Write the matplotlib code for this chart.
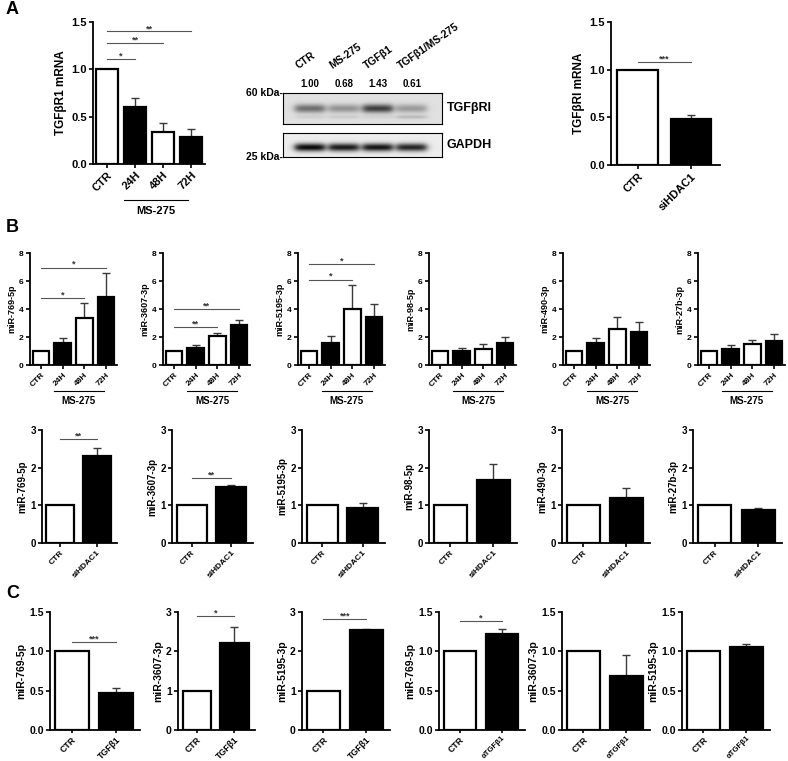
import numpy as np
import matplotlib
matplotlib.use("Agg")
import matplotlib.pyplot as plt
from matplotlib import transforms

plt.rcParams["font.family"] = ["Liberation Sans", "DejaVu Sans"]
plt.rcParams["font.weight"] = "bold"
plt.rcParams["axes.labelweight"] = "bold"

W, H = 788, 761

# ---- panel A data ----
a_labels = ["CTR", "24H", "48H", "72H"]
a_vals = [1.0, 0.60, 0.34, 0.29]
a_err = [0.0, 0.10, 0.09, 0.08]
a_sig = [(0, 1, 1.11, "*"), (0, 2, 1.28, "**"), (0, 3, 1.40, "**")]

blot_lanes = ["CTR", "MS-275", "TGFβ1", "TGFβ1/MS-275"]
blot_quant = [1.00, 0.68, 1.43, 0.61]
gapdh_level = [1.0, 0.93, 0.95, 0.88]

a_si_labels = ["CTR", "siHDAC1"]
a_si_vals = [1.0, 0.48]
a_si_err = [0.0, 0.04]
a_si_sig = [(0, 1, 1.08, "***")]

# ---- panel B data ----
mir_names = ["miR-769-5p", "miR-3607-3p", "miR-5195-3p",
             "miR-98-5p", "miR-490-3p", "miR-27b-3p"]
ms_labels = ["CTR", "24H", "48H", "72H"]
ms_vals = [[1, 1.60, 3.35, 4.85], [1, 1.20, 2.05, 2.85], [1, 1.60, 4.00, 3.45],
           [1, 1.00, 1.15, 1.60], [1, 1.60, 2.60, 2.35], [1, 1.15, 1.50, 1.70]]
ms_err = [[0, 0.35, 1.10, 1.70], [0, 0.25, 0.25, 0.37], [0, 0.45, 1.70, 0.90],
          [0, 0.20, 0.35, 0.40], [0, 0.35, 0.85, 0.75], [0, 0.25, 0.30, 0.50]]
ms_sig = [[(0, 2, 4.8, "*"), (0, 3, 6.95, "*")],
          [(0, 2, 2.7, "**"), (0, 3, 4.0, "**")],
          [(0, 2, 6.1, "*"), (0, 3, 7.2, "*")],
          [], [], []]

si_labels = ["CTR", "siHDAC1"]
si_vals = [2.30, 1.50, 0.92, 1.68, 1.20, 0.88]
si_err = [0.22, 0.03, 0.13, 0.42, 0.27, 0.06]
si_sig = [[(0, 1, 2.75, "**")], [(0, 1, 1.72, "**")], [], [], [], []]

# ---- panel C data ----
c_names = ["miR-769-5p", "miR-3607-3p", "miR-5195-3p",
           "miR-769-5p", "miR-3607-3p", "miR-5195-3p"]
c_treat = ["TGFβ1", "TGFβ1", "TGFβ1", "αTGFβ1", "αTGFβ1", "αTGFβ1"]
c_vals = [0.47, 2.20, 2.53, 1.22, 0.69, 1.05]
c_err = [0.07, 0.42, 0.05, 0.07, 0.26, 0.04]
c_sig = [[(0, 1, 1.12, "***")], [(0, 1, 2.9, "*")], [(0, 1, 2.82, "***")],
         [(0, 1, 1.38, "*")], [], []]
c_ymax = [1.5, 3, 3, 1.5, 1.5, 1.5]

fig = plt.figure(figsize=(W / 100, H / 100), dpi=100)


def px_axes(x0, x1, y0, y1):
    return fig.add_axes([x0 / W, 1 - y1 / H, (x1 - x0) / W, (y1 - y0) / H])


def bar_panel(ax, labels, vals, errs, ymax, yticks, fmt, ylabel, sigs,
              fs_tick, fs_xtick, fs_label, labelpad, xr=0.5):
    x = np.arange(len(vals))
    colors = ["white" if i % 2 == 0 else "black" for i in range(len(vals))]
    errs = np.asarray(errs, dtype=float)
    m = errs > 0
    ax.errorbar(x[m], np.asarray(vals)[m], yerr=[np.zeros(m.sum()), errs[m]],
                fmt="none", ecolor="#3a3a3a", elinewidth=1.0, capsize=3,
                capthick=1.0, zorder=1)
    ax.bar(x, vals, width=0.76, color=colors, edgecolor="black",
           linewidth=1.6, zorder=2)
    for i, j, y, s in sigs:
        ax.plot([i, j], [y, y], color="#555555", lw=0.8, zorder=3)
        ax.text((i + j) / 2, y - ymax * 0.012, s, ha="center", va="bottom",
                fontsize=6.5, color="#333333")
    ax.set_xlim(-0.5, len(vals) - xr)
    ax.set_ylim(0, ymax)
    ax.set_yticks(yticks)
    ax.set_yticklabels([fmt.format(t) for t in yticks], fontsize=fs_tick)
    ax.set_xticks(x)
    ax.set_xticklabels(labels, rotation=45, ha="right", rotation_mode="anchor",
                       fontsize=fs_xtick)
    ax.set_ylabel(ylabel, fontsize=fs_label, labelpad=labelpad)
    for sp in ["top", "right"]:
        ax.spines[sp].set_visible(False)
    for sp in ["left", "bottom"]:
        ax.spines[sp].set_linewidth(1.3)
    ax.tick_params(direction="out", length=3, width=1.2, pad=1.5)


def bracket(ax, text, y_line, y_text, fs):
    tr = transforms.blended_transform_factory(ax.transData, ax.transAxes)
    ax.plot([0.6, 2.9], [y_line, y_line], color="black", lw=0.8,
            transform=tr, clip_on=False)
    ax.text(1.75, y_text, text, ha="center", va="center", fontsize=fs,
            transform=tr)


# ---- A left ----
ax = px_axes(93, 205, 22, 164)
bar_panel(ax, a_labels, a_vals, a_err, 1.5, [0, 0.5, 1.0, 1.5], "{:.1f}",
          "TGFβR1 mRNA", a_sig, 8, 8, 8.5, 3)
bracket(ax, "MS-275", -0.25, -0.33, 8)

# ---- A middle: western blot ----
lane_x = np.arange(len(blot_lanes))
xs = np.linspace(-0.79, 3.89, 320)


def blot_image(levels, yc, sy, bg, extra=None):
    ys = np.linspace(0, 1, 60)
    X, Y = np.meshgrid(xs, ys)
    dark = np.zeros_like(X)
    for i, lv in zip(lane_x, levels):
        lane = 1 / (1 + np.exp((np.abs(X - i) - 0.44) / 0.06))
        dark += lv * lane * np.exp(-((Y - yc) / sy) ** 2)
        if extra is not None:
            dark += extra[i] * lane * np.exp(-((Y - 0.78) / 0.06) ** 2)
    return np.clip(bg - dark, 0, 1)


ax_b1 = px_axes(283, 442, 93, 124)
ax_b1.imshow(blot_image([0.45 * q for q in blot_quant], 0.5, 0.14, 0.88,
                        extra=[0.06, 0.08, 0.05, 0.15]),
             cmap="gray", vmin=0, vmax=1, aspect="auto",
             extent=(xs[0], xs[-1], 1, 0), interpolation="bilinear")
ax_b2 = px_axes(283, 442, 133, 157)
ax_b2.imshow(blot_image([0.9 * g for g in gapdh_level], 0.6, 0.17, 0.93),
             cmap="gray", vmin=0, vmax=1, aspect="auto",
             extent=(xs[0], xs[-1], 1, 0), interpolation="bilinear")
for a in (ax_b1, ax_b2):
    a.set_xticks([])
    a.set_yticks([])
    for sp in a.spines.values():
        sp.set_linewidth(0.8)

tr = transforms.blended_transform_factory(ax_b1.transData, ax_b1.transAxes)
for i, (lane, q) in enumerate(zip(blot_lanes, blot_quant)):
    ax_b1.text(i, 1.12, f"{q:.2f}", ha="center", va="bottom", fontsize=7,
               transform=tr)
    ax_b1.text(i - 0.3, 1.72, lane, ha="left", va="bottom", rotation=35,
               rotation_mode="anchor", fontsize=7.5, transform=tr)
ax_b1.text(1.03, 0.5, "TGFβRI", ha="left", va="center", fontsize=9,
           transform=ax_b1.transAxes)
ax_b2.text(1.03, 0.5, "GAPDH", ha="left", va="center", fontsize=9,
           transform=ax_b2.transAxes)
ax_b1.text(0, 1.0, "60 kDa-", ha="right", va="center", fontsize=7.5,
           transform=ax_b1.transAxes)
ax_b2.text(0, 0.0, "25 kDa-", ha="right", va="center", fontsize=7.5,
           transform=ax_b2.transAxes)

# ---- A right ----
ax = px_axes(611, 720, 22, 165)
bar_panel(ax, a_si_labels, a_si_vals, a_si_err, 1.5, [0, 0.5, 1.0, 1.5],
          "{:.1f}", "TGFβRI mRNA", a_si_sig, 8, 8, 8.5, 3, xr=0.45)

# ---- B row 1 ----
row1_x = [30, 163, 298, 429, 563, 698]
for k in range(6):
    ax = px_axes(row1_x[k], row1_x[k] + 87, 253, 365)
    bar_panel(ax, ms_labels, ms_vals[k], ms_err[k], 8, [0, 2, 4, 6, 8], "{:d}",
              mir_names[k], ms_sig[k], 6, 6, 6.5, 2)
    bracket(ax, "MS-275", -0.23, -0.32, 7)

# ---- B row 2 ----
row2_x = [(42, 117), (172, 253), (302, 385), (429, 517), (562, 650), (693, 782)]
for k in range(6):
    ax = px_axes(row2_x[k][0], row2_x[k][1], 430, 543)
    bar_panel(ax, si_labels, [1.0, si_vals[k]], [0.0, si_err[k]], 3,
              [0, 1, 2, 3], "{:d}", mir_names[k], si_sig[k], 7, 6, 7, 2,
              xr=0.45)

# ---- C ----
c_x = [(50, 140), (178, 255), (302, 390), (439, 525), (562, 650), (682, 770)]
for k in range(6):
    ax = px_axes(c_x[k][0], c_x[k][1], 612, 730)
    if c_ymax[k] == 3:
        ticks, fmt = [0, 1, 2, 3], "{:d}"
    else:
        ticks, fmt = [0, 0.5, 1.0, 1.5], "{:.1f}"
    fs_x = 6.3 if len(c_treat[k]) < 6 else 5.6
    bar_panel(ax, ["CTR", c_treat[k]], [1.0, c_vals[k]], [0.0, c_err[k]],
              c_ymax[k], ticks, fmt, c_names[k], c_sig[k], 7.5, fs_x, 7.5, 2,
              xr=0.45)
    ax.tick_params(axis="x", length=2.5, pad=1)
    ax.get_xticklabels()[0].set_fontsize(6.3)

# panel letters
for letter, y in [("A", 10), ("B", 227), ("C", 594)]:
    fig.text(6 / W, 1 - y / H, letter, fontsize=13, fontweight="bold",
             ha="left", va="center")

fig.savefig("out.png", dpi=100)
